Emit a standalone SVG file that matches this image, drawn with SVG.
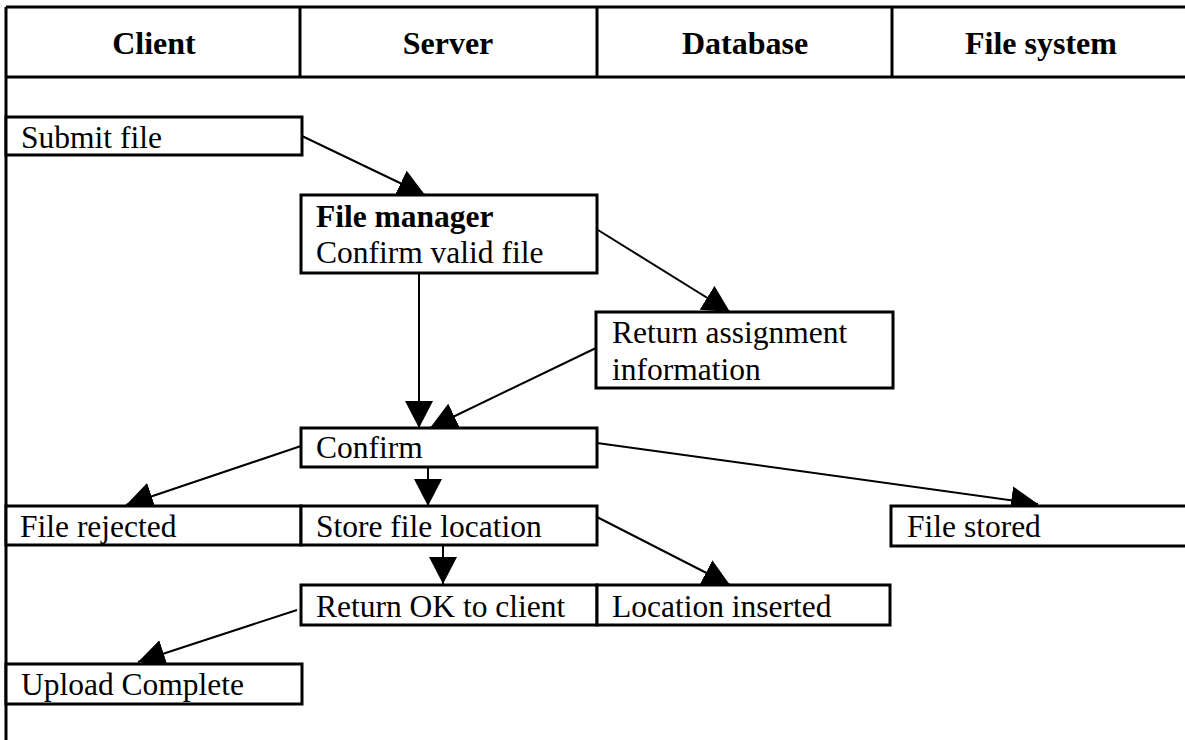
<svg xmlns="http://www.w3.org/2000/svg" width="1185" height="740" viewBox="0 0 1185 740">
<style>
.hdr{font-family:"Liberation Serif","Times New Roman",serif;font-weight:bold;font-size:32px;fill:#000;text-anchor:middle}
.t{font-family:"Liberation Serif","Times New Roman",serif;font-size:31.5px;fill:#000}
.b{font-weight:bold}
.box{fill:#fff;stroke:#000;stroke-width:3}
.grid{stroke:#000;stroke-width:3;fill:none}
.con{stroke:#000;stroke-width:2;fill:none;marker-end:url(#ah)}
</style>
<defs>
<marker id="ah" markerUnits="userSpaceOnUse" markerWidth="28" markerHeight="28" refX="27" refY="14" orient="auto">
<path d="M0,0 L27,14 L0,28 Z" fill="#000"/>
</marker>
</defs>
<rect width="1185" height="740" fill="#fff"/>
<g id="header">
<line class="grid" x1="6" y1="7" x2="1185" y2="7"/>
<line class="grid" x1="6" y1="77" x2="1185" y2="77"/>
<line class="grid" x1="6" y1="7" x2="6" y2="740"/>
<line class="grid" x1="300" y1="7" x2="300" y2="77"/>
<line class="grid" x1="597" y1="7" x2="597" y2="77"/>
<line class="grid" x1="892" y1="7" x2="892" y2="77"/>
<text class="hdr" x="154" y="54">Client</text>
<text class="hdr" x="448" y="54">Server</text>
<text class="hdr" x="745" y="54">Database</text>
<text class="hdr" x="1041" y="54">File system</text>
</g>
<g id="connectors">
<line class="con" x1="302" y1="136" x2="425" y2="195"/>
<line class="con" x1="598" y1="230" x2="730" y2="312"/>
<line class="con" x1="419" y1="273" x2="419" y2="428"/>
<line class="con" x1="596" y1="348" x2="430" y2="428"/>
<line class="con" x1="301" y1="446" x2="126" y2="505"/>
<line class="con" x1="428" y1="467" x2="428" y2="506"/>
<line class="con" x1="597" y1="443" x2="1038" y2="504"/>
<line class="con" x1="597" y1="517" x2="730" y2="585"/>
<line class="con" x1="443" y1="545" x2="443" y2="584"/>
<line class="con" x1="297" y1="610" x2="138" y2="662"/>
</g>
<g id="submit-file">
<rect class="box" x="6" y="117" width="296" height="38"/>
<text class="t" x="21" y="148">Submit file</text>
</g>
<g id="file-manager">
<rect class="box" x="301" y="195" width="296" height="78"/>
<text class="t b" x="316" y="227">File manager</text>
<text class="t" x="316" y="263">Confirm valid file</text>
</g>
<g id="return-assignment">
<rect class="box" x="596" y="312" width="297" height="76"/>
<text class="t" x="612" y="343">Return assignment</text>
<text class="t" x="612" y="380">information</text>
</g>
<g id="confirm">
<rect class="box" x="301" y="428" width="296" height="39"/>
<text class="t" x="316" y="458">Confirm</text>
</g>
<g id="file-rejected">
<rect class="box" x="6" y="506" width="295" height="39"/>
<text class="t" x="20" y="537">File rejected</text>
</g>
<g id="store-file-location">
<rect class="box" x="301" y="506" width="296" height="39"/>
<text class="t" x="316" y="537">Store file location</text>
</g>
<g id="file-stored">
<rect class="box" x="891" y="506" width="300" height="40"/>
<text class="t" x="907" y="537">File stored</text>
</g>
<g id="return-ok">
<rect class="box" x="301" y="585" width="296" height="40"/>
<text class="t" x="316" y="617">Return OK to client</text>
</g>
<g id="location-inserted">
<rect class="box" x="597" y="585" width="293" height="40"/>
<text class="t" x="612" y="617">Location inserted</text>
</g>
<g id="upload-complete">
<rect class="box" x="6" y="664" width="296" height="40"/>
<text class="t" x="21" y="695">Upload Complete</text>
</g>
</svg>
